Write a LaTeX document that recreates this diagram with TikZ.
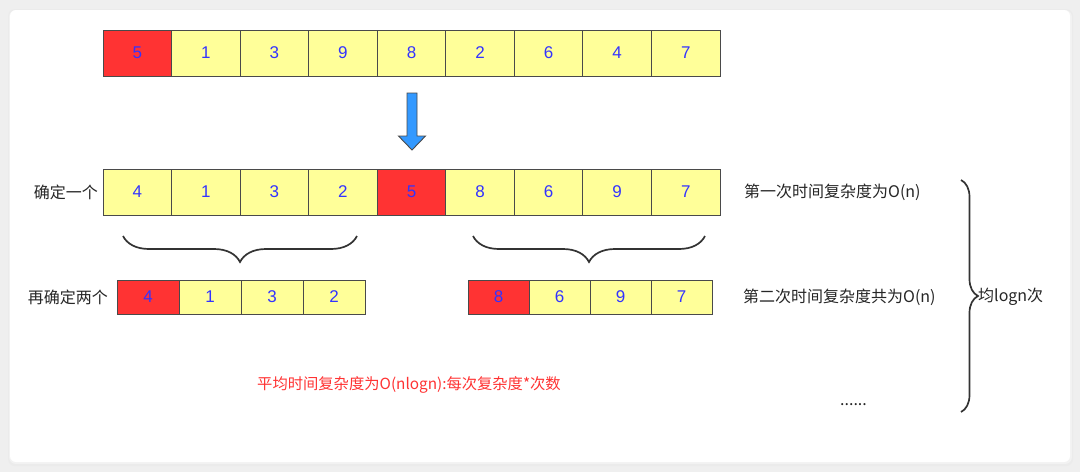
\documentclass[tikz,border=0pt]{standalone}
\usepackage{fontspec}
\setmainfont{Noto Sans CJK SC}
\newfontfamily\digitfont{Liberation Sans}
\usetikzlibrary{decorations.pathreplacing}
\definecolor{bg}{HTML}{EFEFEF}
\definecolor{cellY}{HTML}{FFFF99}
\definecolor{cellR}{HTML}{FF3333}
\definecolor{numB}{HTML}{3333FF}
\definecolor{edge}{HTML}{4A4A4A}
\definecolor{arrowB}{HTML}{3399FF}
\definecolor{txtR}{HTML}{FF3333}
\definecolor{braceC}{HTML}{333333}
\tikzset{
  cellbox/.style={draw=edge, line width=1pt, minimum height=46pt, inner sep=0pt, text=numB, font=\digitfont\fontsize{17}{18}\selectfont},
  cellsmall/.style={draw=edge, line width=1pt, minimum height=34pt, inner sep=0pt, text=numB, font=\digitfont\fontsize{17}{18}\selectfont},
  lbl/.style={font=\fontsize{16}{18}\selectfont, text=black!85, inner sep=0pt},
  bracestyle/.style={draw=braceC, line width=1.7pt, decorate, decoration={brace, amplitude=#1}},
}
\begin{document}
\begin{tikzpicture}[x=1pt,y=-1pt]
\useasboundingbox (0,0) rectangle (1080,472);
\fill[bg] (0,0) rectangle (1080,472);
% card shadow
\fill[black!8, rounded corners=7pt] (8,9) rectangle (1073,466);
\fill[black!5, rounded corners=7pt] (9,10) rectangle (1072,464);
\fill[white, rounded corners=6pt] (10,10) rectangle (1070,462);

% row 1
\foreach \v [count=\i from 0] in {5,1,3,9,8,2,6,4,7} {
  \pgfmathsetmacro{\xl}{103+68.56*\i}
  \pgfmathsetmacro{\xr}{103+68.56*(\i+1)}
  \ifnum\i=0
    \node[cellbox, fill=cellR, minimum width=68.56pt] (a\i) at ({(\xl+\xr)/2},53) {\v};
  \else
    \node[cellbox, fill=cellY, minimum width=68.56pt] (a\i) at ({(\xl+\xr)/2},53) {\v};
  \fi
}
% arrow
\draw[edge, fill=arrowB, line width=0.9pt, line join=miter]
  (407,93) -- (417,93) -- (417,136) -- (425.5,136) -- (412,150) -- (398.5,136) -- (407,136) -- cycle;

% row 2
\foreach \v [count=\i from 0] in {4,1,3,2,5,8,6,9,7} {
  \pgfmathsetmacro{\xl}{103+68.56*\i}
  \pgfmathsetmacro{\xr}{103+68.56*(\i+1)}
  \ifnum\i=4
    \node[cellbox, fill=cellR, minimum width=68.56pt] (b\i) at ({(\xl+\xr)/2},192) {\v};
  \else
    \node[cellbox, fill=cellY, minimum width=68.56pt] (b\i) at ({(\xl+\xr)/2},192) {\v};
  \fi
}
\node[lbl, anchor=east] (l1) at (98,192) {确定一个};

% braces
\coordinate (bl1) at (123,236);
\coordinate (bl2) at (357,236);
\coordinate (br1) at (473,236);
\coordinate (br2) at (705,236);
\draw[bracestyle=26pt] (bl2) -- (bl1);
\draw[bracestyle=26pt] (br2) -- (br1);

% row 3 left
\foreach \v [count=\i from 0] in {4,1,3,2} {
  \pgfmathsetmacro{\xl}{117+62*\i}
  \ifnum\i=0
    \node[cellsmall, fill=cellR, minimum width=62pt] (c\i) at ({\xl+31},297) {\v};
  \else
    \node[cellsmall, fill=cellY, minimum width=62pt] (c\i) at ({\xl+31},297) {\v};
  \fi
}
% row 3 right
\foreach \v [count=\i from 0] in {8,6,9,7} {
  \pgfmathsetmacro{\xl}{468+61*\i}
  \ifnum\i=0
    \node[cellsmall, fill=cellR, minimum width=61pt] (d\i) at ({\xl+30.5},297) {\v};
  \else
    \node[cellsmall, fill=cellY, minimum width=61pt] (d\i) at ({\xl+30.5},297) {\v};
  \fi
}
\node[lbl, anchor=east] (l2) at (108,297) {再确定两个};

% right labels
\node[lbl, anchor=west] (r1) at (744,192) {第一次时间复杂度为O(n)};
\node[lbl, anchor=west] (r2) at (743,297) {第二次时间复杂度共为O(n)};
\node[lbl, anchor=west] (r3) at (840,405) {......};

% big brace
\coordinate (g1) at (961,180);
\coordinate (g2) at (961,412);
\draw[bracestyle=17pt] (g1) -- (g2);
\node[lbl, anchor=west] (r4) at (978,297) {均logn次};

% red text
\node[lbl, text=txtR, font=\fontsize{15.3}{17}\selectfont] (avg) at (409,385) {平均时间复杂度为O(nlogn):每次复杂度*次数};
\end{tikzpicture}
\end{document}
